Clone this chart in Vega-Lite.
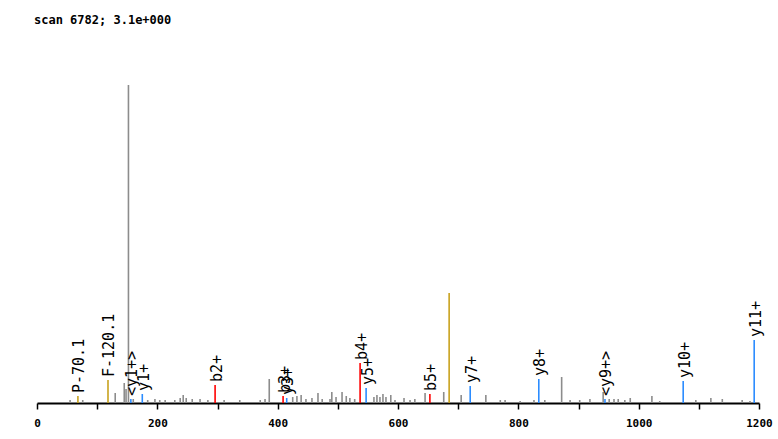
{
  "$schema": "https://vega.github.io/schema/vega-lite/v6.json",
  "autosize": "none",
  "width": 722,
  "height": 318,
  "padding": {"left": 37, "top": 85, "right": 19, "bottom": 36},
  "background": "white",
  "config": {"view": {"stroke": null}},
  "title": {
    "text": "scan 6782; 3.1e+000",
    "anchor": "start",
    "frame": "group",
    "baseline": "alphabetic",
    "offset": 48,
    "dx": -3,
    "font": "DejaVu Sans Mono",
    "fontSize": 12,
    "fontWeight": "bold",
    "color": "black"
  },
  "data": {
    "values": [
      {"mz": 55, "intensity": 3, "type": "other", "label": ""},
      {"mz": 76, "intensity": 3, "type": "other", "label": ""},
      {"mz": 130, "intensity": 10, "type": "other", "label": ""},
      {"mz": 145, "intensity": 20, "type": "other", "label": ""},
      {"mz": 148, "intensity": 14, "type": "other", "label": ""},
      {"mz": 152, "intensity": 318, "type": "other", "label": ""},
      {"mz": 160, "intensity": 4, "type": "other", "label": ""},
      {"mz": 184, "intensity": 3, "type": "other", "label": ""},
      {"mz": 196, "intensity": 4, "type": "other", "label": ""},
      {"mz": 204, "intensity": 3, "type": "other", "label": ""},
      {"mz": 213, "intensity": 3, "type": "other", "label": ""},
      {"mz": 229, "intensity": 3, "type": "other", "label": ""},
      {"mz": 238, "intensity": 5, "type": "other", "label": ""},
      {"mz": 243, "intensity": 8, "type": "other", "label": ""},
      {"mz": 248, "intensity": 5, "type": "other", "label": ""},
      {"mz": 258, "intensity": 4, "type": "other", "label": ""},
      {"mz": 271, "intensity": 4, "type": "other", "label": ""},
      {"mz": 284, "intensity": 3, "type": "other", "label": ""},
      {"mz": 311, "intensity": 3, "type": "other", "label": ""},
      {"mz": 337, "intensity": 3, "type": "other", "label": ""},
      {"mz": 371, "intensity": 3, "type": "other", "label": ""},
      {"mz": 379, "intensity": 4, "type": "other", "label": ""},
      {"mz": 386, "intensity": 24, "type": "other", "label": ""},
      {"mz": 425, "intensity": 6, "type": "other", "label": ""},
      {"mz": 432, "intensity": 7, "type": "other", "label": ""},
      {"mz": 439, "intensity": 8, "type": "other", "label": ""},
      {"mz": 447, "intensity": 4, "type": "other", "label": ""},
      {"mz": 457, "intensity": 5, "type": "other", "label": ""},
      {"mz": 467, "intensity": 10, "type": "other", "label": ""},
      {"mz": 474, "intensity": 4, "type": "other", "label": ""},
      {"mz": 487, "intensity": 4, "type": "other", "label": ""},
      {"mz": 490, "intensity": 11, "type": "other", "label": ""},
      {"mz": 497, "intensity": 6, "type": "other", "label": ""},
      {"mz": 507, "intensity": 11, "type": "other", "label": ""},
      {"mz": 514, "intensity": 7, "type": "other", "label": ""},
      {"mz": 520, "intensity": 5, "type": "other", "label": ""},
      {"mz": 528, "intensity": 4, "type": "other", "label": ""},
      {"mz": 560, "intensity": 6, "type": "other", "label": ""},
      {"mz": 565, "intensity": 8, "type": "other", "label": ""},
      {"mz": 570, "intensity": 6, "type": "other", "label": ""},
      {"mz": 575, "intensity": 9, "type": "other", "label": ""},
      {"mz": 580, "intensity": 6, "type": "other", "label": ""},
      {"mz": 588, "intensity": 8, "type": "other", "label": ""},
      {"mz": 595, "intensity": 3, "type": "other", "label": ""},
      {"mz": 610, "intensity": 5, "type": "other", "label": ""},
      {"mz": 620, "intensity": 3, "type": "other", "label": ""},
      {"mz": 628, "intensity": 4, "type": "other", "label": ""},
      {"mz": 645, "intensity": 10, "type": "other", "label": ""},
      {"mz": 676, "intensity": 11, "type": "other", "label": ""},
      {"mz": 705, "intensity": 8, "type": "other", "label": ""},
      {"mz": 746, "intensity": 8, "type": "other", "label": ""},
      {"mz": 770, "intensity": 3, "type": "other", "label": ""},
      {"mz": 778, "intensity": 3, "type": "other", "label": ""},
      {"mz": 803, "intensity": 2, "type": "other", "label": ""},
      {"mz": 826, "intensity": 3, "type": "other", "label": ""},
      {"mz": 844, "intensity": 3, "type": "other", "label": ""},
      {"mz": 872, "intensity": 26, "type": "other", "label": ""},
      {"mz": 886, "intensity": 3, "type": "other", "label": ""},
      {"mz": 902, "intensity": 3, "type": "other", "label": ""},
      {"mz": 919, "intensity": 4, "type": "other", "label": ""},
      {"mz": 941, "intensity": 11, "type": "other", "label": ""},
      {"mz": 951, "intensity": 4, "type": "other", "label": ""},
      {"mz": 959, "intensity": 4, "type": "other", "label": ""},
      {"mz": 966, "intensity": 4, "type": "other", "label": ""},
      {"mz": 977, "intensity": 3, "type": "other", "label": ""},
      {"mz": 986, "intensity": 5, "type": "other", "label": ""},
      {"mz": 1022, "intensity": 7, "type": "other", "label": ""},
      {"mz": 1035, "intensity": 2, "type": "other", "label": ""},
      {"mz": 1095, "intensity": 3, "type": "other", "label": ""},
      {"mz": 1120, "intensity": 5, "type": "other", "label": ""},
      {"mz": 1139, "intensity": 4, "type": "other", "label": ""},
      {"mz": 1172, "intensity": 3, "type": "other", "label": ""},
      {"mz": 1185, "intensity": 2, "type": "other", "label": ""},
      {"mz": 68, "intensity": 7, "type": "loss", "label": "P-70.1"},
      {"mz": 118, "intensity": 23, "type": "loss", "label": "F-120.1"},
      {"mz": 685, "intensity": 110, "type": "loss", "label": ""},
      {"mz": 156, "intensity": 4, "type": "y", "label": "<y1+>"},
      {"mz": 175, "intensity": 9, "type": "y", "label": "y1+"},
      {"mz": 296, "intensity": 18, "type": "b", "label": "b2+"},
      {"mz": 409, "intensity": 7, "type": "b", "label": "b3+"},
      {"mz": 415, "intensity": 5, "type": "y", "label": "y3+"},
      {"mz": 537, "intensity": 40, "type": "b", "label": "b4+"},
      {"mz": 547, "intensity": 15, "type": "y", "label": "y5+"},
      {"mz": 653, "intensity": 9, "type": "b", "label": "b5+"},
      {"mz": 720, "intensity": 17, "type": "y", "label": "y7+"},
      {"mz": 834, "intensity": 24, "type": "y", "label": "y8+"},
      {"mz": 944, "intensity": 4, "type": "y", "label": "<y9+>"},
      {"mz": 1074, "intensity": 22, "type": "y", "label": "y10+"},
      {"mz": 1192, "intensity": 63, "type": "y", "label": "y11+"}
    ]
  },
  "layer": [
    {
      "mark": {"type": "rule", "strokeWidth": 1.6},
      "encoding": {
        "x": {
          "field": "mz",
          "type": "quantitative",
          "scale": {"domain": [0, 1200], "nice": false, "zero": false},
          "axis": {
            "title": null,
            "grid": false,
            "values": [0, 100, 200, 300, 400, 500, 600, 700, 800, 900, 1000, 1100, 1200],
            "format": "d",
            "labelExpr": "datum.value % 200 == 0 ? datum.label : ''",
            "domainColor": "black",
            "domainWidth": 2,
            "tickColor": "black",
            "tickWidth": 1.5,
            "tickSize": 6,
            "labelFont": "DejaVu Sans Mono",
            "labelFontSize": 11,
            "labelFontWeight": "bold",
            "labelColor": "black",
            "labelPadding": 8,
            "labelOverlap": false,
            "labelBound": false,
            "labelFlush": false
          }
        },
        "y": {
          "field": "intensity",
          "type": "quantitative",
          "scale": {"domain": [0, 318], "nice": false},
          "axis": null
        },
        "y2": {"datum": 0},
        "color": {
          "field": "type",
          "type": "nominal",
          "scale": {
            "domain": ["other", "loss", "b", "y"],
            "range": ["#8c8c8c", "#c8a21e", "#ff0000", "#2b8cff"]
          },
          "legend": null
        }
      }
    },
    {
      "transform": [{"filter": "datum.label != ''"}],
      "mark": {
        "type": "text",
        "angle": 270,
        "align": "left",
        "baseline": "middle",
        "dx": 3,
        "dy": 1.5,
        "font": "DejaVu Sans Mono",
        "fontSize": 15,
        "color": "black"
      },
      "encoding": {
        "x": {"field": "mz", "type": "quantitative"},
        "y": {"field": "intensity", "type": "quantitative"},
        "text": {"field": "label"}
      }
    }
  ]
}
